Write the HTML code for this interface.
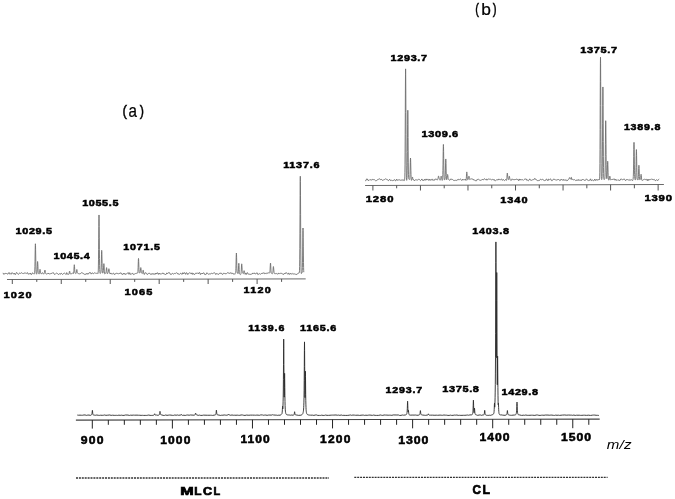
<!DOCTYPE html><html><head><meta charset="utf-8"><style>html,body{margin:0;padding:0;background:#fff;}svg{display:block;filter:grayscale(1);}text{font-family:"Liberation Sans",sans-serif;}</style></head><body>
<svg width="675" height="499" viewBox="0 0 675 499">
<rect width="675" height="499" fill="#fff"/>
<polyline fill="none" stroke="#6e6e6e" stroke-width="0.9" points="3.00,272.87 3.70,274.29 4.40,274.13 5.10,273.11 5.80,273.59 6.50,273.50 7.30,273.94 7.90,274.18 8.60,272.79 9.30,272.66 10.00,274.27 10.70,273.47 11.40,274.12 12.10,272.60 12.80,273.49 13.50,274.04 14.20,273.06 14.90,274.49 15.60,274.40 16.30,272.66 17.00,272.65 17.70,273.68 18.40,274.48 19.10,273.36 19.80,273.03 20.50,273.44 21.20,272.66 22.40,273.35 22.60,273.48 23.30,273.59 24.00,273.07 25.40,273.04 26.10,273.52 26.80,273.18 27.50,272.64 28.20,274.28 28.90,273.71 29.60,273.88 30.30,272.97 31.00,274.59 31.70,274.32 32.40,272.84 33.10,273.27 33.80,274.04 34.30,273.99 34.40,273.91 34.50,273.68 34.60,273.22 34.70,272.15 34.80,270.10 34.90,266.70 35.00,261.85 35.20,250.13 35.30,245.57 35.40,243.78 35.50,245.27 35.60,249.54 35.80,261.09 35.90,265.86 36.00,269.45 36.10,271.68 36.20,272.93 36.30,273.57 36.40,273.91 36.50,274.11 36.60,274.21 36.70,274.08 36.80,273.82 36.90,273.33 37.00,272.44 37.10,271.01 37.20,269.01 37.30,266.60 37.40,264.15 37.50,262.28 37.60,261.53 37.70,262.08 37.80,263.73 38.00,268.23 38.10,270.27 38.20,271.73 38.30,272.66 38.40,273.19 38.50,273.48 38.60,273.65 38.90,273.94 39.10,274.06 39.20,274.05 39.30,273.95 39.40,273.69 39.50,273.11 39.60,272.29 39.80,270.32 39.90,269.58 40.00,269.30 40.10,269.56 40.20,270.19 40.40,271.94 40.50,272.66 40.60,273.13 40.70,273.38 40.90,273.58 41.20,273.70 41.50,273.78 42.20,272.67 42.90,273.09 43.60,274.19 44.00,273.72 44.10,273.56 44.20,273.34 44.30,273.02 44.40,272.61 44.50,272.06 44.70,270.75 44.80,270.25 44.90,270.01 45.00,270.11 45.10,270.65 45.30,272.03 45.40,272.63 45.50,273.08 45.60,273.39 45.70,273.61 45.90,273.77 46.40,274.01 47.10,273.95 47.80,273.35 49.20,273.62 49.90,274.16 50.60,273.64 51.30,273.39 52.00,273.58 52.70,272.66 53.40,272.69 54.10,274.01 54.80,274.57 55.50,273.79 56.70,273.07 56.90,272.94 57.60,273.60 58.30,274.56 59.70,273.68 60.40,274.32 61.10,273.06 61.80,273.63 62.50,274.50 63.20,273.76 64.00,273.46 64.60,273.14 65.30,273.70 66.00,274.51 66.70,272.61 67.40,274.17 68.70,274.32 68.80,274.29 68.90,274.13 69.00,273.88 69.10,273.50 69.20,272.97 69.40,271.72 69.50,271.24 69.60,271.10 69.70,271.28 69.80,271.74 70.00,272.95 70.10,273.45 70.20,273.81 70.30,273.94 70.40,273.97 70.60,273.87 70.90,273.64 71.60,273.72 72.30,273.45 73.00,272.71 73.30,273.37 73.40,273.54 73.50,273.61 73.60,273.51 73.70,273.11 73.80,271.99 73.90,270.43 74.10,266.71 74.20,265.30 74.30,264.73 74.40,265.13 74.50,266.35 74.70,269.68 74.80,271.05 74.90,271.98 75.00,272.51 75.20,272.99 75.30,273.14 75.70,273.52 75.80,273.59 75.90,273.56 76.00,273.48 76.10,273.33 76.20,273.05 76.30,272.58 76.40,271.93 76.60,270.33 76.70,269.71 76.80,269.46 76.90,269.64 77.00,270.18 77.20,271.67 77.30,272.31 77.40,272.77 77.50,273.04 77.60,273.19 77.70,273.25 77.90,273.29 78.60,273.68 79.30,273.85 80.00,273.82 80.70,273.52 81.40,272.66 82.10,273.06 82.80,272.95 83.50,273.77 84.20,274.32 85.00,274.20 86.30,274.23 87.00,273.11 87.70,274.28 88.40,273.95 89.10,272.77 89.90,272.63 90.50,272.63 91.20,274.11 91.90,273.10 92.60,272.82 93.30,273.85 94.70,272.74 95.40,272.92 96.10,273.65 96.80,272.94 97.50,273.15 97.80,273.50 97.90,273.58 98.00,273.55 98.10,273.25 98.20,272.35 98.30,270.10 98.40,265.96 98.50,259.22 98.60,249.68 98.70,238.17 98.80,226.74 98.90,218.17 99.00,214.97 99.10,218.09 99.20,226.55 99.30,237.88 99.40,249.27 99.50,258.69 99.60,265.33 99.70,269.44 99.80,271.66 99.90,272.72 100.00,273.19 100.10,273.39 100.30,273.54 100.60,273.13 100.70,272.94 100.80,272.65 100.90,272.12 101.00,271.14 101.10,269.64 101.20,267.12 101.30,263.50 101.50,254.75 101.60,251.51 101.70,250.37 101.80,251.63 101.90,254.98 102.10,263.96 102.20,267.69 102.30,270.32 102.40,271.93 102.50,272.72 102.60,273.05 102.70,273.15 102.80,273.15 102.90,273.07 103.00,272.94 103.10,272.71 103.20,272.34 103.30,271.66 103.40,270.56 103.50,269.02 103.70,265.31 103.80,263.93 103.90,263.64 104.00,264.38 104.10,265.97 104.30,270.08 104.40,271.83 104.50,273.13 104.60,273.67 104.70,273.91 104.80,273.96 104.90,273.92 105.60,273.25 105.70,273.12 105.80,272.93 106.00,272.29 106.10,271.70 106.20,270.81 106.40,268.62 106.50,267.83 106.60,267.61 106.70,268.01 106.80,268.97 107.00,271.50 107.10,272.57 107.20,273.33 107.30,273.83 107.40,273.83 107.50,273.71 107.70,273.32 108.00,272.60 108.10,272.53 108.20,272.38 108.30,272.10 108.40,271.64 108.50,270.99 108.70,269.43 108.80,268.89 108.90,268.71 109.00,268.96 109.10,269.58 109.30,271.21 109.40,271.90 109.50,272.52 109.60,272.96 109.70,273.27 109.80,273.50 110.10,274.04 110.80,272.92 111.50,274.01 112.20,273.96 112.90,273.69 113.60,273.04 114.30,274.55 115.00,274.20 116.40,273.05 117.10,273.90 117.80,273.39 118.50,273.75 119.20,273.24 119.90,273.86 120.60,272.72 121.30,273.20 122.00,274.54 122.70,274.35 123.40,273.21 124.10,274.32 124.80,273.22 125.50,274.48 126.20,274.09 126.90,273.43 127.60,273.10 128.30,272.62 129.00,274.36 129.70,272.68 130.40,274.24 131.10,274.52 132.50,272.94 133.20,274.34 133.90,274.55 134.70,273.95 135.40,273.58 136.00,273.36 136.70,273.29 137.40,272.99 137.50,273.09 137.60,273.11 137.70,272.98 137.80,272.55 137.90,271.62 138.00,270.02 138.10,267.70 138.30,261.64 138.40,259.36 138.50,258.47 138.60,259.23 138.70,261.36 138.90,267.15 139.00,269.54 139.10,271.20 139.20,272.19 139.30,272.69 139.40,272.89 139.60,272.94 139.80,272.89 139.90,272.82 140.00,272.68 140.10,272.43 140.20,271.97 140.30,271.42 140.40,270.58 140.60,268.49 140.70,267.75 140.80,267.57 140.90,268.07 141.00,268.86 141.20,271.07 141.30,271.96 141.40,272.56 141.50,272.89 141.60,273.02 141.70,273.18 141.90,273.36 142.30,273.56 142.40,273.45 142.50,273.28 142.60,272.99 142.70,272.55 142.80,271.95 143.00,270.53 143.10,270.19 143.20,270.16 143.30,270.50 143.40,271.15 143.60,272.79 143.70,273.50 143.80,273.89 143.90,274.14 144.00,274.27 144.20,274.37 144.40,274.40 145.10,272.64 145.90,273.04 146.50,273.26 147.20,274.57 147.90,274.17 148.60,273.28 149.30,273.03 150.00,273.95 150.80,274.30 151.40,274.46 152.10,273.29 152.80,274.36 154.20,273.57 154.90,274.57 155.60,273.07 156.30,274.05 157.00,272.77 157.70,272.94 158.40,274.42 159.10,273.03 159.80,274.12 160.50,273.80 161.20,274.28 161.90,273.34 163.20,273.20 163.30,273.18 164.00,274.33 164.70,273.81 165.40,274.51 166.10,274.37 166.80,272.87 167.50,273.70 168.20,272.81 168.90,272.68 169.60,272.75 170.30,274.33 171.00,274.18 171.70,274.26 172.40,273.28 173.10,273.83 173.80,274.16 174.50,273.36 175.20,273.74 175.90,273.05 176.60,272.76 177.30,273.13 178.00,274.38 178.70,273.73 179.40,274.45 180.10,273.52 180.80,273.15 181.50,274.17 182.20,274.26 182.90,272.62 183.60,273.94 184.30,272.78 185.00,272.83 185.70,274.37 186.40,272.68 187.10,273.08 187.80,274.58 188.50,273.44 189.20,272.83 190.40,273.04 190.60,273.08 191.30,274.09 192.00,272.81 192.70,274.42 193.40,273.36 194.10,274.54 194.80,274.42 195.50,273.19 196.20,273.11 196.90,273.55 197.60,272.80 198.30,273.90 199.00,272.68 199.70,272.62 200.40,274.57 201.10,273.19 201.80,273.79 203.20,273.23 203.90,272.73 204.60,274.43 205.40,274.54 206.00,274.54 206.70,272.82 207.40,273.03 208.30,274.04 208.80,274.56 209.50,273.69 210.20,273.98 210.90,273.92 211.60,273.12 212.30,273.68 213.00,273.21 213.70,273.09 214.40,272.76 215.10,273.16 215.80,274.57 216.50,273.50 217.20,273.90 217.90,273.89 218.60,274.48 219.30,273.38 220.00,273.21 221.00,273.25 221.40,273.23 222.10,274.29 222.80,274.39 223.50,273.21 224.20,273.27 224.90,273.69 226.30,273.79 227.00,273.09 227.70,272.64 228.40,273.09 229.10,272.74 229.80,273.70 230.50,272.74 231.20,272.75 231.90,273.87 232.60,273.18 233.30,274.18 234.00,273.59 234.70,274.33 235.30,273.09 235.40,272.83 235.50,272.78 235.60,272.51 235.70,271.84 235.80,270.49 235.90,268.22 236.00,264.95 236.20,257.03 236.30,254.09 236.40,253.05 236.50,254.26 236.60,257.37 236.80,265.64 236.90,268.80 237.00,270.96 237.10,272.21 237.20,272.78 237.30,272.93 237.40,272.88 237.50,272.73 237.70,273.24 237.80,273.46 237.90,273.64 238.00,273.72 238.10,273.60 238.20,273.16 238.30,271.81 238.40,269.99 238.60,265.68 238.70,264.02 238.80,263.27 238.90,263.58 239.00,265.19 239.20,269.39 239.30,271.17 239.40,272.47 239.50,273.33 239.60,273.87 239.70,274.10 239.80,274.23 240.30,274.57 240.70,274.35 240.80,274.23 240.90,274.02 241.00,273.63 241.10,272.83 241.20,271.61 241.30,269.95 241.50,266.00 241.60,264.49 241.70,263.84 241.80,264.29 241.90,265.59 242.10,269.13 242.20,270.59 242.30,271.60 242.40,272.20 242.50,272.66 242.60,272.94 242.70,273.13 243.00,273.50 243.20,273.65 243.30,273.64 243.40,273.52 243.50,273.24 243.60,272.81 243.80,271.72 243.90,271.04 244.00,270.68 244.10,270.69 244.20,271.00 244.40,271.97 244.50,272.34 244.60,272.90 244.70,273.31 244.80,273.60 245.00,274.03 245.20,274.39 245.90,272.88 246.60,274.42 247.30,272.66 248.00,273.23 248.70,274.41 249.40,274.21 250.10,274.41 251.10,274.20 251.80,274.04 252.20,273.98 252.90,272.96 253.60,273.47 254.30,272.92 255.00,274.03 255.70,273.94 256.40,273.11 257.10,272.73 257.80,274.53 258.50,274.22 259.20,273.70 259.90,273.68 260.60,274.30 261.30,273.51 263.00,273.21 263.40,273.12 264.10,272.65 264.80,273.89 265.50,273.43 266.20,273.74 266.90,272.72 267.60,273.31 268.30,272.88 269.00,272.85 269.40,272.99 269.50,273.00 269.60,272.96 269.70,272.80 269.80,272.55 269.90,271.94 270.00,270.84 270.10,269.21 270.30,265.21 270.40,263.76 270.50,263.03 270.60,263.51 270.70,265.00 270.90,269.08 271.00,270.75 271.10,271.89 271.20,272.67 271.30,273.08 271.40,273.28 271.50,273.36 271.80,273.40 272.40,273.74 272.50,273.75 272.60,273.53 272.70,273.19 272.80,272.63 272.90,271.80 273.00,270.65 273.20,267.94 273.30,266.95 273.40,266.54 273.50,266.82 273.60,267.68 273.80,270.05 273.90,271.02 274.00,271.90 274.10,272.49 274.20,272.88 274.30,273.14 274.50,273.50 274.60,273.66 275.30,273.60 276.00,273.90 276.70,273.48 277.40,273.97 278.10,274.06 278.80,273.08 279.50,273.59 280.20,273.56 280.90,273.05 281.80,273.51 282.30,273.72 283.00,274.41 283.70,274.44 284.40,273.15 285.10,273.89 285.80,272.70 286.50,272.74 287.30,273.73 287.90,274.35 288.60,272.92 289.30,274.13 290.00,274.37 290.70,273.22 291.40,273.99 292.10,274.30 292.80,273.34 293.50,274.00 294.20,274.07 294.90,273.79 295.60,274.31 296.80,274.48 297.00,274.52 298.40,272.95 299.00,273.07 299.10,273.07 299.20,272.97 299.30,272.71 299.40,271.99 299.50,270.28 299.60,266.66 299.70,259.88 299.80,248.77 299.90,233.13 300.00,214.22 300.10,195.43 300.20,181.40 300.30,176.24 300.40,181.60 300.50,195.83 300.60,214.78 300.70,233.85 300.80,249.64 300.90,260.79 301.00,267.61 301.10,271.28 301.20,273.03 301.30,273.54 301.40,273.60 301.50,273.48 301.80,272.89 301.90,272.65 302.00,272.71 302.10,272.55 302.20,271.93 302.30,270.40 302.40,267.38 302.50,262.31 302.60,255.05 302.70,246.07 302.80,237.15 302.90,230.48 303.00,228.00 303.10,230.50 303.20,237.19 303.30,246.13 303.40,255.02 303.50,262.35 303.60,267.49 303.70,270.59 303.80,272.19"/>
<line x1="7.0" y1="279.50" x2="305.7" y2="278.90" stroke="#6a6a6a" stroke-width="1"/>
<line x1="12.30" y1="279.49" x2="12.30" y2="284.00" stroke="#555" stroke-width="1"/>
<line x1="36.78" y1="279.44" x2="36.78" y2="281.90" stroke="#555" stroke-width="1"/>
<line x1="61.26" y1="279.39" x2="61.26" y2="284.00" stroke="#555" stroke-width="1"/>
<line x1="85.74" y1="279.34" x2="85.74" y2="281.90" stroke="#555" stroke-width="1"/>
<line x1="110.22" y1="279.29" x2="110.22" y2="284.00" stroke="#555" stroke-width="1"/>
<line x1="134.70" y1="279.24" x2="134.70" y2="281.90" stroke="#555" stroke-width="1"/>
<line x1="159.18" y1="279.19" x2="159.18" y2="284.00" stroke="#555" stroke-width="1"/>
<line x1="183.66" y1="279.15" x2="183.66" y2="281.90" stroke="#555" stroke-width="1"/>
<line x1="208.14" y1="279.10" x2="208.14" y2="284.00" stroke="#555" stroke-width="1"/>
<line x1="232.62" y1="279.05" x2="232.62" y2="281.90" stroke="#555" stroke-width="1"/>
<line x1="257.10" y1="279.00" x2="257.10" y2="284.00" stroke="#555" stroke-width="1"/>
<line x1="281.58" y1="278.95" x2="281.58" y2="281.90" stroke="#555" stroke-width="1"/>
<polyline fill="none" stroke="#6e6e6e" stroke-width="0.9" points="365.20,180.71 365.90,180.70 366.60,178.91 367.30,178.97 368.00,180.47 369.00,180.22 369.40,180.14 370.10,179.42 370.80,180.01 371.90,179.98 372.20,179.96 372.90,179.12 373.60,179.66 374.30,179.59 375.10,180.32 375.70,180.79 376.40,180.70 377.10,179.89 377.90,179.64 378.60,179.27 379.20,178.87 379.90,178.85 380.60,179.73 381.30,179.44 382.00,179.56 382.70,180.58 383.40,179.85 384.10,179.92 384.80,179.27 385.50,178.85 386.20,179.45 386.90,179.07 387.60,179.82 388.30,180.80 389.00,180.15 389.70,179.16 390.40,180.59 391.30,180.36 391.80,180.27 392.50,180.61 393.20,180.33 393.90,180.38 394.60,179.51 395.30,180.76 396.00,180.72 396.70,179.12 397.40,180.31 398.10,180.23 398.80,179.72 399.50,179.86 400.20,179.78 400.90,180.65 401.60,179.80 402.30,180.46 403.00,179.51 403.70,180.57 404.30,180.59 404.40,180.56 404.50,180.34 404.60,179.92 404.70,178.99 404.80,176.93 404.90,172.68 405.00,164.83 405.10,152.04 405.20,134.12 405.30,112.46 405.40,90.93 405.50,74.84 405.60,68.87 405.70,74.90 405.80,91.05 405.90,112.71 406.00,134.50 406.10,152.56 406.20,165.32 406.30,173.14 406.40,177.37 406.50,179.41 406.60,180.16 406.70,180.39 406.80,180.20 406.90,179.64 407.00,178.37 407.10,175.73 407.20,170.83 407.30,162.82 407.40,151.50 407.50,137.83 407.60,124.25 407.70,114.07 407.80,110.24 407.90,113.93 408.00,123.97 408.10,137.41 408.20,150.93 408.30,162.12 408.40,169.98 408.50,174.74 408.60,177.26 408.70,178.50 408.80,179.03 408.90,179.25 409.00,179.34 409.30,179.44 409.50,179.58 409.60,179.53 409.70,179.27 409.80,178.58 409.90,177.20 410.00,174.86 410.10,171.25 410.30,162.61 410.40,159.35 410.50,158.04 410.60,159.04 410.70,162.00 410.90,170.76 411.00,174.43 411.10,177.08 411.20,178.79 411.30,179.79 411.40,180.38 411.50,180.35 411.60,180.22 411.70,179.98 411.80,179.69 411.90,179.30 412.00,178.77 412.10,178.10 412.30,177.30 412.40,177.05 412.50,177.07 412.60,177.42 412.70,178.04 412.80,178.80 412.90,179.22 413.00,179.53 413.10,179.70 413.20,179.74 413.30,179.68 413.50,179.41 414.20,180.71 415.00,180.15 415.60,179.81 416.30,179.84 417.00,180.10 417.70,179.98 418.40,179.42 419.10,179.22 419.80,179.82 420.50,180.67 421.20,180.05 421.90,178.95 422.60,180.44 423.30,180.25 424.00,180.62 424.70,179.18 425.40,180.29 426.10,178.92 426.80,180.11 427.50,179.35 428.20,179.25 428.90,180.55 429.60,179.01 430.30,179.84 431.00,180.51 431.70,179.29 432.40,179.22 433.10,180.56 433.80,179.65 434.50,180.23 435.20,178.86 435.90,179.52 436.60,179.14 437.30,180.15 437.60,179.62 437.70,179.42 437.80,179.17 437.90,178.84 438.00,178.36 438.10,178.09 438.20,177.61 438.40,176.36 438.50,175.95 438.60,175.96 438.70,176.45 438.80,176.84 439.00,178.06 439.10,178.53 439.20,178.77 439.30,178.82 439.40,178.72 439.50,179.00 439.80,179.65 440.10,180.26 440.30,179.82 440.40,179.57 440.50,179.25 440.60,178.84 440.70,178.30 440.80,177.61 441.00,176.57 441.10,176.21 441.20,176.11 441.30,176.34 441.40,176.84 441.50,177.49 441.60,178.24 441.70,178.88 441.80,179.38 441.90,179.75 442.00,180.02 442.20,180.42 442.30,180.20 442.40,179.92 442.50,179.48 442.60,178.69 442.70,177.21 442.80,174.61 442.90,170.46 443.00,164.86 443.10,158.08 443.20,151.35 443.30,146.32 443.40,144.45 443.50,146.34 443.60,151.38 443.70,158.27 443.80,165.19 443.90,170.95 444.00,175.05 444.10,177.61 444.20,179.05 444.30,179.80 444.40,179.96 444.50,179.97 444.60,179.91 444.70,179.81 444.80,179.67 444.90,179.43 445.00,178.99 445.10,178.15 445.20,176.64 445.30,174.24 445.40,170.88 445.60,162.81 445.70,159.78 445.80,158.96 445.90,160.32 446.00,163.52 446.20,171.93 446.30,175.47 446.40,178.05 446.50,179.21 446.60,179.72 446.70,179.84 446.80,179.69 446.90,179.29 447.00,178.73 447.20,177.22 447.40,175.40 447.50,174.71 447.60,174.44 447.70,174.65 447.80,175.27 448.00,177.20 448.10,178.01 448.20,178.62 448.30,179.02 448.40,179.27 448.50,179.44 448.80,179.72 449.20,180.03 449.90,180.28 450.60,179.03 451.30,179.47 452.00,178.86 452.70,179.70 453.40,180.33 454.10,180.28 454.80,180.60 455.50,180.31 456.20,180.52 457.00,180.14 458.30,179.25 459.00,180.12 459.70,179.43 460.40,179.00 461.10,179.70 461.80,180.55 462.50,179.06 463.20,179.97 463.90,179.59 464.60,179.83 465.30,179.09 465.80,180.22 465.90,180.40 466.00,180.51 466.10,180.03 466.20,179.30 466.30,178.25 466.40,176.84 466.60,173.51 466.70,172.22 466.80,171.92 466.90,172.42 467.00,173.61 467.20,176.73 467.30,178.04 467.40,179.00 467.50,179.47 467.60,179.69 467.70,179.77 467.90,179.74 468.10,179.61 468.20,179.44 468.30,179.21 468.40,178.89 468.50,178.43 468.60,177.83 468.80,176.43 468.90,176.15 469.00,176.14 469.10,176.46 469.20,177.05 469.40,178.53 469.50,179.17 469.60,179.39 469.70,179.48 469.80,179.47 470.00,179.31 470.20,179.08 471.00,178.91 471.60,178.87 472.30,179.12 473.00,178.99 473.70,180.07 474.40,179.82 475.10,180.77 475.80,180.67 476.50,180.79 477.20,179.26 477.90,179.69 478.60,179.30 479.30,179.98 480.00,180.05 480.70,180.40 481.40,180.22 482.10,179.31 482.90,179.68 483.50,179.85 484.20,178.81 484.90,178.87 485.60,179.62 486.30,179.02 487.00,180.25 487.70,179.28 488.40,179.00 489.40,179.21 489.90,179.26 490.50,179.23 491.20,179.84 491.90,179.73 492.60,179.42 493.30,180.08 494.00,179.22 494.70,180.61 495.40,180.73 496.20,180.17 496.80,179.67 498.20,179.96 498.90,178.90 499.60,179.64 500.30,179.85 501.00,179.16 501.70,178.99 502.40,180.41 503.10,179.53 503.80,179.84 504.50,180.64 505.90,179.38 506.30,180.15 506.40,180.30 506.50,180.38 506.60,180.34 506.70,179.71 506.80,178.80 506.90,177.57 507.10,174.69 507.20,173.57 507.30,173.04 507.40,173.29 507.50,174.14 507.70,176.47 507.80,177.42 507.90,178.06 508.00,178.41 508.10,178.84 508.20,179.15 508.30,179.38 508.40,179.57 508.50,179.70 508.60,179.78 508.70,179.76 508.80,179.26 508.90,178.60 509.10,177.10 509.20,176.50 509.30,176.17 509.40,176.16 509.50,176.66 509.70,177.94 509.80,178.49 509.90,178.89 510.00,179.16 510.40,179.87 510.80,180.48 511.50,180.15 512.20,178.83 512.90,179.70 513.60,179.62 514.30,179.77 515.00,179.22 515.70,179.98 516.40,178.95 517.10,179.37 517.80,179.55 518.50,180.67 519.20,178.95 519.90,180.31 520.60,179.18 521.30,179.94 522.00,179.58 522.70,179.73 523.40,180.31 524.10,179.59 524.80,179.04 525.70,179.02 526.20,178.96 526.90,180.50 527.60,180.08 528.30,180.72 529.00,180.19 529.70,178.85 530.40,180.12 531.10,180.35 531.80,180.25 532.50,179.80 533.20,179.52 533.80,179.66 534.00,179.68 534.10,179.64 534.20,179.51 534.30,179.28 534.50,178.70 534.60,178.51 534.70,178.25 534.80,178.20 534.90,178.34 535.10,178.82 535.20,178.99 535.30,179.07 535.40,179.28 535.60,179.54 536.00,179.85 536.70,179.76 537.40,180.71 538.10,180.41 538.80,180.66 539.50,180.47 540.20,179.39 540.90,179.26 541.60,179.78 542.30,179.32 543.00,179.66 544.40,180.64 545.10,179.97 545.80,180.44 546.50,178.99 547.20,179.51 547.90,180.80 548.60,179.09 549.30,179.63 550.00,178.93 550.70,178.97 551.40,180.59 552.10,180.78 552.80,180.10 553.50,179.06 554.20,179.39 554.90,179.26 555.60,180.14 556.30,180.16 557.00,179.68 557.70,179.85 558.40,179.02 559.80,180.70 560.50,180.31 561.20,178.99 561.90,179.83 562.60,180.23 563.30,179.31 564.00,180.59 564.70,179.72 565.40,180.21 566.10,179.61 566.80,180.79 568.20,179.95 568.60,179.43 568.80,179.08 568.90,178.82 569.00,178.68 569.10,178.44 569.30,177.83 569.40,177.62 569.50,177.60 569.70,177.96 569.90,178.51 570.00,178.71 570.10,178.82 570.20,178.84 570.30,178.80 570.40,178.99 570.50,179.10 570.60,179.15 570.70,179.10 570.80,178.92 570.90,178.60 571.00,178.17 571.10,177.67 571.20,177.32 571.30,177.24 571.40,177.48 571.50,178.00 571.70,179.33 571.80,179.62 571.90,179.76 572.00,179.77 572.10,179.68 572.30,179.35 572.40,179.16 573.10,179.82 573.90,179.74 574.50,179.61 575.30,180.29 575.90,180.67 577.30,179.74 578.00,180.72 578.70,179.46 579.40,180.29 580.10,180.12 581.50,180.50 582.20,179.25 582.90,180.04 583.60,179.61 584.40,180.22 585.00,180.75 585.70,180.07 586.40,178.82 587.10,179.73 587.90,180.27 588.50,180.57 589.20,180.10 589.90,180.43 590.60,178.83 591.30,180.69 592.00,180.26 592.70,180.01 593.40,180.61 594.10,180.57 594.80,179.00 595.50,180.43 596.20,180.33 596.90,179.20 597.60,180.29 598.30,179.97 599.00,179.18 599.30,179.67 599.40,179.74 599.50,179.59 599.60,178.88 599.70,176.92 599.80,172.20 599.90,163.52 600.00,149.42 600.10,129.49 600.20,105.46 600.30,81.58 600.40,63.67 600.50,57.21 600.60,63.94 600.70,81.79 600.80,105.62 600.90,129.60 601.00,149.47 601.10,163.51 601.20,171.95 601.30,176.44 601.40,178.52 601.50,179.35 601.60,179.62 601.70,179.68 601.80,179.56 601.90,179.26 602.00,178.54 602.10,176.87 602.20,173.37 602.30,166.87 602.40,156.24 602.50,141.20 602.60,123.17 602.70,105.26 602.80,91.88 602.90,86.96 603.00,92.06 603.10,105.61 603.30,141.79 603.40,156.76 603.50,167.30 603.60,173.73 603.70,177.14 603.80,178.73 603.90,179.38 604.00,179.55 604.10,179.55 604.40,179.35 604.60,179.14 604.70,179.20 604.80,178.99 604.90,178.18 605.00,176.20 605.10,172.31 605.20,165.80 605.30,156.48 605.40,144.69 605.50,132.98 605.60,124.16 605.70,120.71 605.80,123.64 605.90,131.96 606.00,143.16 606.10,154.67 606.20,164.19 606.30,170.90 606.40,174.99 606.50,177.16 606.60,178.17 606.70,178.58 606.80,178.74 606.90,178.54 607.00,177.98 607.10,176.81 607.20,174.81 607.30,171.90 607.50,164.82 607.60,162.19 607.70,161.27 607.80,162.39 607.90,165.22 608.10,172.75 608.20,175.74 608.30,177.83 608.40,179.09 608.50,179.73 608.60,180.01 608.70,180.10 608.90,180.10 609.00,180.06 609.10,179.94 609.20,179.69 609.30,179.26 609.40,178.64 609.50,177.88 609.60,177.03 609.70,176.37 609.80,176.08 609.90,176.22 610.00,176.72 610.30,178.83 610.40,179.34 610.50,179.67 610.60,179.87 610.70,180.00 610.90,180.14 611.60,179.47 612.30,179.33 613.00,179.81 613.70,178.86 614.40,178.96 615.10,180.31 615.80,179.15 616.50,180.30 617.20,180.37 617.90,179.61 618.60,180.15 619.50,180.42 620.00,180.53 620.70,179.07 621.40,179.13 622.10,179.56 622.80,179.73 623.50,179.39 624.20,178.82 624.90,179.91 625.60,180.73 626.30,179.53 627.00,179.88 627.70,179.56 628.40,179.69 629.10,180.54 629.80,179.42 630.50,180.10 631.20,179.77 631.90,179.88 632.60,180.63 632.90,179.87 633.00,179.52 633.10,179.01 633.20,178.10 633.30,176.45 633.40,174.01 633.50,169.88 633.60,163.93 633.70,156.70 633.80,149.51 633.90,144.19 634.00,142.35 634.10,144.26 634.20,149.64 634.30,156.89 634.40,164.19 634.50,170.21 634.60,174.40 634.70,176.90 634.80,178.42 634.90,179.18 635.00,179.55 635.10,179.75 635.20,179.88 635.30,179.96 635.40,179.97 635.50,179.79 635.60,179.30 635.70,178.20 635.80,176.11 635.90,172.65 636.00,167.73 636.10,161.77 636.20,155.77 636.30,151.27 636.40,149.57 636.50,151.19 636.60,155.61 636.80,167.49 636.90,172.38 637.00,175.80 637.10,177.87 637.20,178.93 637.30,179.39 637.40,179.54 637.50,179.55 637.80,179.95 637.90,180.04 638.00,180.07 638.10,179.96 638.20,179.58 638.30,178.41 638.40,176.64 638.50,174.21 638.70,168.44 638.80,166.24 638.90,165.29 639.00,166.18 639.10,168.32 639.30,173.97 639.40,176.34 639.50,178.06 639.60,179.17 639.70,179.61 639.80,179.78 639.90,179.81 640.00,179.77 640.20,179.59 640.40,179.25 640.50,178.89 640.60,178.28 640.70,177.40 640.90,175.26 641.00,174.47 641.10,174.25 641.20,174.65 641.30,175.57 641.50,177.98 641.60,178.99 641.70,179.73 641.80,180.11 641.90,180.31 642.00,180.39 642.20,180.42 642.40,180.40 643.10,180.06 643.80,179.42 644.50,179.27 645.20,179.72 645.90,179.26 646.60,179.35 647.30,180.72 648.00,179.02 648.70,180.44 649.40,179.56 650.40,179.49 650.80,179.44 651.50,178.95 652.20,179.71 652.90,179.13 653.60,179.68 654.30,179.38 655.00,180.59 655.70,180.64 656.40,179.68 657.10,180.08 657.80,180.66 658.50,179.45 659.20,179.00"/>
<line x1="365.1" y1="185.50" x2="663.9" y2="184.50" stroke="#6a6a6a" stroke-width="1"/>
<line x1="372.90" y1="185.47" x2="372.90" y2="190.50" stroke="#555" stroke-width="1"/>
<line x1="396.67" y1="185.39" x2="396.67" y2="188.30" stroke="#555" stroke-width="1"/>
<line x1="420.44" y1="185.31" x2="420.44" y2="190.50" stroke="#555" stroke-width="1"/>
<line x1="444.21" y1="185.24" x2="444.21" y2="188.30" stroke="#555" stroke-width="1"/>
<line x1="467.98" y1="185.16" x2="467.98" y2="190.50" stroke="#555" stroke-width="1"/>
<line x1="491.75" y1="185.08" x2="491.75" y2="188.30" stroke="#555" stroke-width="1"/>
<line x1="515.52" y1="185.00" x2="515.52" y2="190.50" stroke="#555" stroke-width="1"/>
<line x1="539.29" y1="184.92" x2="539.29" y2="188.30" stroke="#555" stroke-width="1"/>
<line x1="563.06" y1="184.84" x2="563.06" y2="190.50" stroke="#555" stroke-width="1"/>
<line x1="586.83" y1="184.76" x2="586.83" y2="188.30" stroke="#555" stroke-width="1"/>
<line x1="610.60" y1="184.68" x2="610.60" y2="190.50" stroke="#555" stroke-width="1"/>
<line x1="634.37" y1="184.60" x2="634.37" y2="188.30" stroke="#555" stroke-width="1"/>
<line x1="658.14" y1="184.52" x2="658.14" y2="190.50" stroke="#555" stroke-width="1"/>
<polyline fill="none" stroke="#2a2a2a" stroke-width="0.9" points="77.30,415.07 78.70,415.22 80.00,415.14 81.50,415.25 82.50,415.26 83.90,414.98 85.10,414.96 86.40,415.37 87.80,415.08 89.00,415.05 90.30,415.39 91.00,415.15 91.30,414.98 91.50,414.80 91.70,414.53 91.80,414.33 91.90,414.04 92.00,413.59 92.10,412.91 92.20,411.95 92.30,410.87 92.40,410.30 92.50,410.90 92.60,412.00 92.70,412.99 92.80,413.70 92.90,414.18 93.00,414.47 93.10,414.67 93.20,414.81 93.40,414.97 93.70,415.07 94.60,415.16 95.50,415.25 96.80,415.02 98.30,415.29 99.40,415.38 100.70,415.21 102.20,415.32 103.40,415.26 104.60,414.98 105.90,415.33 107.80,415.18 109.80,414.97 111.10,415.38 112.40,415.19 114.80,415.38 115.80,415.34 116.40,415.32 117.60,415.41 118.90,415.15 120.20,415.35 121.50,415.17 122.90,415.42 124.10,415.39 125.40,415.00 128.00,415.06 129.30,415.43 130.60,415.17 132.00,415.25 133.30,415.11 134.60,415.20 137.00,415.13 138.60,415.24 139.80,415.25 141.10,415.39 142.40,415.30 143.70,415.41 145.20,415.39 146.30,415.43 147.80,415.23 148.80,415.03 150.10,415.38 151.70,415.42 152.80,415.37 153.70,415.17 154.10,414.98 154.20,414.89 154.30,414.75 154.40,414.55 154.60,413.94 154.70,413.77 154.80,413.96 155.00,414.59 155.10,414.80 155.20,414.94 155.30,415.04 155.60,415.13 156.30,415.08 156.60,415.03 157.90,415.32 158.70,415.14 159.00,415.01 159.20,414.84 159.30,414.72 159.40,414.55 159.50,414.30 159.60,413.93 159.70,413.40 159.80,412.64 159.90,411.81 160.00,411.35 160.10,411.79 160.20,412.60 160.30,413.33 160.40,413.85 160.50,414.19 160.60,414.42 160.70,414.57 160.90,414.75 161.20,414.86 161.80,414.92 163.10,415.36 164.40,415.44 165.70,414.99 167.00,415.35 168.80,415.11 169.70,415.03 171.00,415.12 172.30,415.34 173.50,415.39 174.80,414.97 176.10,415.26 177.40,414.97 178.70,415.30 180.00,415.08 180.60,415.11 180.80,415.05 180.90,414.97 181.00,414.86 181.20,414.49 181.30,414.39 181.40,414.51 181.60,414.93 181.70,415.07 181.90,415.24 182.30,415.36 182.70,415.39 183.90,415.20 185.20,415.45 186.60,415.10 187.80,414.99 189.10,415.25 190.40,414.97 194.00,415.19 194.30,415.18 194.70,415.02 194.90,414.88 195.10,414.64 195.20,414.44 195.30,414.14 195.40,413.73 195.50,413.28 195.60,413.03 195.70,413.26 195.80,413.69 195.90,414.07 196.00,414.35 196.10,414.53 196.30,414.73 196.60,414.85 196.90,414.90 198.20,415.37 199.50,415.10 200.80,415.43 202.20,415.38 203.40,415.14 207.70,415.26 210.50,415.24 211.40,415.28 212.50,415.41 214.00,415.16 214.90,415.03 215.40,414.86 215.60,414.68 215.70,414.54 215.80,414.33 215.90,414.02 216.00,413.54 216.10,412.83 216.20,411.83 216.30,410.71 216.40,410.11 216.50,410.71 216.60,411.82 216.70,412.81 216.80,413.51 216.90,413.98 217.00,414.28 217.10,414.49 217.20,414.62 217.40,414.78 218.10,414.97 219.10,415.10 220.30,415.43 221.70,415.21 222.90,415.22 224.20,414.96 225.70,415.17 226.80,415.23 227.90,414.92 228.30,414.77 228.40,414.70 228.50,414.58 228.70,414.22 228.80,414.12 228.90,414.26 229.10,414.72 229.20,414.88 229.40,415.08 229.80,415.19 230.70,415.25 232.00,414.98 233.30,415.26 234.70,415.19 236.00,415.28 237.20,415.13 238.60,415.30 239.80,415.32 241.10,414.96 242.40,414.98 243.80,415.30 245.00,415.43 246.30,415.08 248.90,415.25 250.30,415.11 252.50,415.11 254.40,415.16 255.50,415.24 256.80,415.10 258.10,415.15 259.30,415.33 260.60,414.94 261.30,415.02 261.60,414.94 261.80,414.75 261.90,414.62 262.00,414.54 262.10,414.63 262.30,414.93 262.50,415.11 262.90,415.24 263.30,415.28 264.60,415.10 265.80,415.06 267.10,415.35 268.50,415.07 269.90,415.06 271.40,415.15 271.80,415.08 272.00,414.94 272.20,414.67 272.30,414.60 272.40,414.66 272.60,414.90 272.80,415.02 273.20,415.04 273.60,414.97 275.10,415.11 276.30,415.14 277.50,415.37 278.80,415.16 280.00,415.23 280.10,415.23 280.80,414.85 281.20,414.55 281.70,414.05 281.90,413.75 282.00,413.52 282.10,412.98 282.20,412.17 282.30,410.96 282.40,409.25 282.50,407.34 282.60,406.31 282.70,407.36 282.80,408.89 282.90,407.26 283.00,405.00 283.10,401.77 283.20,397.05 283.30,389.99 283.40,379.44 283.50,364.64 283.60,348.11 283.70,339.14 283.80,348.13 283.90,364.69 284.00,379.51 284.10,390.08 284.20,397.16 284.30,395.56 284.40,387.40 284.50,378.28 284.60,373.33 284.70,378.29 284.80,387.43 284.90,395.62 285.00,401.45 285.10,405.37 285.20,407.99 285.30,409.79 285.40,411.03 285.50,411.92 285.60,412.57 285.70,413.06 285.80,413.43 285.90,413.72 286.00,413.95 286.20,414.27 286.40,414.48 286.80,414.73 287.30,414.88 288.60,414.99 289.30,415.02 290.50,415.21 291.80,415.03 293.10,415.26 293.50,415.16 293.80,414.99 293.90,414.88 294.00,414.73 294.10,414.51 294.20,414.17 294.30,413.68 294.40,412.98 294.50,412.17 294.60,411.72 294.70,412.12 294.80,412.88 294.90,413.55 295.00,414.03 295.10,414.34 295.20,414.53 295.30,414.66 295.50,414.80 296.20,414.98 297.10,415.08 298.30,415.35 300.00,415.26 300.90,415.21 301.60,414.90 302.10,414.55 302.40,414.26 302.60,413.99 302.80,413.61 302.90,413.37 303.00,413.09 303.10,412.73 303.20,412.30 303.30,411.76 303.40,411.07 303.50,410.18 303.60,409.02 303.70,407.45 303.80,405.27 303.90,402.16 304.00,397.61 304.10,390.81 304.20,380.65 304.30,366.41 304.40,350.51 304.50,341.88 304.60,350.52 304.70,366.44 304.80,380.69 304.90,390.87 305.00,397.70 305.10,394.47 305.20,385.93 305.30,376.38 305.40,371.21 305.50,376.42 305.60,386.01 305.70,394.59 305.80,400.72 305.90,404.83 306.00,407.58 306.10,409.48 306.20,410.77 306.30,411.70 306.40,412.38 306.50,412.89 306.60,413.28 306.70,413.58 306.80,413.82 307.00,414.15 307.20,414.36 307.70,414.70 308.30,414.92 309.30,415.08 310.60,415.16 312.70,415.17 313.90,415.41 315.20,415.03 316.50,414.95 317.80,415.42 319.40,415.40 320.40,415.44 321.70,415.17 323.10,415.42 324.30,415.41 325.60,415.06 327.00,415.33 328.40,415.35 331.80,415.12 332.50,415.10 333.80,415.10 336.00,414.98 337.30,415.24 338.60,415.09 339.90,415.36 341.20,414.97 342.50,415.40 343.90,415.31 345.30,415.41 347.80,415.39 349.20,415.20 350.30,414.96 351.60,415.32 352.90,415.04 354.40,415.13 355.60,415.28 358.10,415.16 359.40,415.42 362.10,415.12 363.30,415.08 364.60,415.38 365.90,415.19 367.20,415.34 368.70,415.11 369.90,415.06 372.40,415.36 373.70,415.04 375.10,415.35 376.50,415.40 378.20,415.36 378.90,415.36 380.20,414.95 381.60,415.27 382.80,415.38 384.10,414.97 385.60,415.09 386.90,415.10 388.10,415.21 389.70,415.17 390.80,415.21 391.90,415.34 393.20,414.95 396.90,415.01 398.40,414.98 399.70,415.44 401.00,415.38 402.30,414.99 403.60,415.19 405.50,414.95 406.00,414.79 406.30,414.59 406.50,414.36 406.60,414.19 406.70,413.97 406.80,413.68 406.90,413.26 407.00,412.67 407.10,411.81 407.20,410.52 407.30,408.59 407.40,405.89 407.50,402.87 407.60,401.24 407.70,402.89 407.80,405.92 407.90,408.64 408.00,410.58 408.10,411.88 408.20,411.88 408.30,410.81 408.40,410.23 408.50,410.83 408.60,411.93 408.70,412.91 408.80,413.62 408.90,414.08 409.00,414.39 409.10,414.60 409.20,414.75 409.40,414.93 409.70,415.07 410.20,415.15 412.90,415.05 414.10,415.11 415.30,415.01 416.80,415.23 418.00,415.26 418.90,415.06 419.30,414.89 419.50,414.74 419.70,414.50 419.80,414.30 419.90,414.01 420.00,413.59 420.10,412.97 420.20,412.10 420.30,411.13 420.40,410.60 420.50,411.11 420.60,412.07 420.70,412.93 420.80,413.54 420.90,413.96 421.00,414.23 421.10,414.43 421.30,414.66 421.60,414.83 422.30,415.01 424.80,415.28 425.70,415.33 427.00,415.09 427.50,415.10 427.80,415.01 427.90,414.93 428.00,414.81 428.10,414.61 428.30,414.03 428.40,413.84 428.50,414.01 428.70,414.62 428.80,414.82 428.90,414.95 429.10,415.10 429.50,415.19 430.70,415.17 432.50,415.15 434.90,415.29 436.20,415.17 437.50,415.29 440.10,415.08 441.80,415.25 442.60,415.30 443.90,414.99 445.30,415.16 446.60,415.18 447.90,415.39 449.10,415.42 450.40,415.14 451.70,415.40 453.10,415.33 454.30,415.08 455.70,415.17 456.90,415.01 458.20,415.36 459.60,415.29 460.90,415.39 463.70,415.29 464.90,415.30 466.20,415.20 467.30,415.00 468.60,415.24 469.90,414.92 471.10,414.88 471.70,414.85 472.00,414.74 472.20,414.60 472.30,414.48 472.40,414.33 472.50,414.12 472.60,413.77 472.70,413.29 472.80,412.63 472.90,411.68 473.00,410.26 473.10,408.17 473.20,405.24 473.30,401.97 473.40,400.18 473.50,401.91 473.60,405.13 473.70,408.00 473.80,410.04 473.90,411.42 474.00,412.35 474.10,412.73 474.20,411.78 474.30,410.46 474.40,408.99 474.50,408.18 474.60,408.99 474.70,410.47 474.80,411.79 474.90,412.74 475.00,413.37 475.10,413.80 475.20,414.09 475.30,414.29 475.50,414.55 475.80,414.74 476.30,414.88 476.80,415.06 477.70,415.37 479.10,415.03 480.30,414.96 481.60,415.35 482.90,414.92 483.40,414.96 483.70,414.90 483.90,414.77 484.00,414.65 484.10,414.46 484.20,414.18 484.30,413.71 484.40,413.01 484.50,412.03 484.60,410.94 484.70,410.34 484.80,410.92 484.90,412.00 485.00,412.97 485.10,413.66 485.20,414.12 485.30,414.42 485.40,414.63 485.60,414.88 485.90,415.09 486.40,415.24 487.50,415.37 488.20,415.40 489.40,415.24 490.70,415.33 491.30,415.11 492.00,414.74 492.60,414.65 493.00,414.48 493.30,414.24 493.50,413.93 493.70,413.52 493.90,412.99 494.00,412.41 494.10,411.28 494.20,409.61 494.30,407.26 494.40,404.64 494.50,403.22 494.60,404.62 494.70,407.24 494.80,405.86 494.90,403.78 495.00,401.02 495.10,397.29 495.20,392.11 495.30,384.74 495.40,373.96 495.50,357.85 495.60,333.79 495.70,300.05 495.80,262.36 495.90,241.91 496.00,262.35 496.10,300.02 496.20,333.74 496.30,357.78 496.40,356.90 496.50,332.19 496.60,300.30 496.70,272.56 496.80,272.54 496.90,300.23 497.00,332.07 497.10,356.73 497.20,373.56 497.30,384.82 497.40,375.84 497.50,363.04 497.60,356.10 497.70,363.09 497.80,375.94 497.90,387.45 498.00,395.66 498.10,401.17 498.20,404.87 498.30,404.69 498.40,403.30 498.50,404.74 498.60,407.36 498.70,409.70 498.80,411.37 498.90,412.49 499.00,413.25 499.10,413.77 499.20,414.01 499.40,414.37 499.70,414.73 499.80,414.81 500.20,414.91 500.80,414.90 501.10,414.85 502.40,415.10 505.00,415.33 505.90,415.04 506.40,414.77 506.60,414.60 506.70,414.46 506.80,414.27 506.90,413.98 507.00,413.56 507.10,412.94 507.20,412.06 507.30,411.08 507.40,410.54 507.50,411.07 507.60,412.05 507.70,412.93 507.80,413.55 507.90,413.98 508.00,414.26 508.10,414.45 508.30,414.69 508.60,414.87 509.60,415.13 510.40,415.25 511.60,415.31 513.00,415.13 514.70,415.02 515.30,414.89 515.60,414.73 515.80,414.56 516.00,414.28 516.10,414.07 516.20,413.79 516.30,413.40 516.40,412.84 516.50,412.03 516.60,410.82 516.70,409.02 516.80,406.49 516.90,403.66 517.00,402.13 517.10,403.67 517.20,406.50 517.30,409.03 517.40,410.84 517.50,412.05 517.60,412.86 517.70,413.42 517.80,413.81 517.90,414.09 518.00,414.30 518.20,414.55 518.50,414.74 519.00,414.86 519.40,414.90 521.60,415.38 521.90,415.44 523.20,415.16 524.50,415.32 525.80,415.03 527.20,415.30 528.80,415.32 531.70,415.20 532.70,415.22 534.90,415.40 536.20,415.02 537.50,415.00 538.90,415.33 540.10,415.41 541.50,415.21 542.80,415.18 544.00,415.31 545.30,415.04 547.00,415.07 548.00,415.06 549.20,415.24 550.80,415.10 551.90,415.08 553.40,415.33 554.40,415.43 555.70,415.10 557.00,415.30 558.30,415.16 559.60,415.38 562.40,415.08 564.00,415.02 564.80,414.96 566.20,415.19 568.10,415.08 568.80,415.04 570.20,415.13 571.40,415.13 572.60,415.34 573.90,415.02 575.20,415.45 576.50,415.19 578.00,415.24 579.20,415.20 580.50,415.37 581.90,415.34 583.30,415.22 584.40,415.20 586.40,415.35 587.00,415.36 588.20,415.15 590.20,415.38 590.80,415.43 592.30,415.17 593.60,415.07 594.80,415.09 596.10,415.31 597.40,415.30 598.70,415.43 599.00,415.41"/>
<line x1="75.9" y1="420.10" x2="599.7" y2="419.10" stroke="#444" stroke-width="1.1"/>
<line x1="92.30" y1="420.07" x2="92.30" y2="428.60" stroke="#222" stroke-width="1"/>
<line x1="108.32" y1="420.04" x2="108.32" y2="424.80" stroke="#222" stroke-width="1"/>
<line x1="124.33" y1="420.01" x2="124.33" y2="424.80" stroke="#222" stroke-width="1"/>
<line x1="140.35" y1="419.98" x2="140.35" y2="424.80" stroke="#222" stroke-width="1"/>
<line x1="156.36" y1="419.95" x2="156.36" y2="424.80" stroke="#222" stroke-width="1"/>
<line x1="172.38" y1="419.92" x2="172.38" y2="428.53" stroke="#222" stroke-width="1"/>
<line x1="188.40" y1="419.89" x2="188.40" y2="424.80" stroke="#222" stroke-width="1"/>
<line x1="204.41" y1="419.85" x2="204.41" y2="424.80" stroke="#222" stroke-width="1"/>
<line x1="220.43" y1="419.82" x2="220.43" y2="424.80" stroke="#222" stroke-width="1"/>
<line x1="236.44" y1="419.79" x2="236.44" y2="424.80" stroke="#222" stroke-width="1"/>
<line x1="252.46" y1="419.76" x2="252.46" y2="428.47" stroke="#222" stroke-width="1"/>
<line x1="268.48" y1="419.73" x2="268.48" y2="424.80" stroke="#222" stroke-width="1"/>
<line x1="284.49" y1="419.70" x2="284.49" y2="424.80" stroke="#222" stroke-width="1"/>
<line x1="300.51" y1="419.67" x2="300.51" y2="424.80" stroke="#222" stroke-width="1"/>
<line x1="316.52" y1="419.64" x2="316.52" y2="424.80" stroke="#222" stroke-width="1"/>
<line x1="332.54" y1="419.61" x2="332.54" y2="428.40" stroke="#222" stroke-width="1"/>
<line x1="348.56" y1="419.58" x2="348.56" y2="424.80" stroke="#222" stroke-width="1"/>
<line x1="364.57" y1="419.55" x2="364.57" y2="424.80" stroke="#222" stroke-width="1"/>
<line x1="380.59" y1="419.52" x2="380.59" y2="424.80" stroke="#222" stroke-width="1"/>
<line x1="396.60" y1="419.49" x2="396.60" y2="424.80" stroke="#222" stroke-width="1"/>
<line x1="412.62" y1="419.46" x2="412.62" y2="428.33" stroke="#222" stroke-width="1"/>
<line x1="428.64" y1="419.43" x2="428.64" y2="424.80" stroke="#222" stroke-width="1"/>
<line x1="444.65" y1="419.40" x2="444.65" y2="424.80" stroke="#222" stroke-width="1"/>
<line x1="460.67" y1="419.37" x2="460.67" y2="424.80" stroke="#222" stroke-width="1"/>
<line x1="476.68" y1="419.33" x2="476.68" y2="424.80" stroke="#222" stroke-width="1"/>
<line x1="492.70" y1="419.30" x2="492.70" y2="428.27" stroke="#222" stroke-width="1"/>
<line x1="508.72" y1="419.27" x2="508.72" y2="424.80" stroke="#222" stroke-width="1"/>
<line x1="524.73" y1="419.24" x2="524.73" y2="424.80" stroke="#222" stroke-width="1"/>
<line x1="540.75" y1="419.21" x2="540.75" y2="424.80" stroke="#222" stroke-width="1"/>
<line x1="556.76" y1="419.18" x2="556.76" y2="424.80" stroke="#222" stroke-width="1"/>
<line x1="572.78" y1="419.15" x2="572.78" y2="428.20" stroke="#222" stroke-width="1"/>
<line x1="588.80" y1="419.12" x2="588.80" y2="424.80" stroke="#222" stroke-width="1"/>
<text transform="translate(122.49,115.81) scale(0.875,1)" font-size="15.30" font-weight="normal" font-style="normal" letter-spacing="0.00" fill="#000" stroke="#000" stroke-width="0.45">(</text>
<text transform="translate(128.45,116.73) scale(0.858,1)" font-size="17.71" font-weight="normal" font-style="normal" letter-spacing="0.00" fill="#000" stroke="#000" stroke-width="0.20">a</text>
<text transform="translate(139.75,115.81) scale(0.826,1)" font-size="15.30" font-weight="normal" font-style="normal" letter-spacing="0.00" fill="#000" stroke="#000" stroke-width="0.45">)</text>
<text transform="translate(475.24,13.90) scale(0.748,1)" font-size="14.87" font-weight="normal" font-style="normal" letter-spacing="0.00" fill="#000" stroke="#000" stroke-width="0.45">(</text>
<text transform="translate(481.18,14.55) scale(1.108,1)" font-size="15.66" font-weight="normal" font-style="normal" letter-spacing="0.00" fill="#000" stroke="#000" stroke-width="0.20">b</text>
<text transform="translate(492.86,13.90) scale(0.774,1)" font-size="14.87" font-weight="normal" font-style="normal" letter-spacing="0.00" fill="#000" stroke="#000" stroke-width="0.45">)</text>
<text transform="translate(15.57,234.36) scale(1.180,1)" font-size="9.18" font-weight="bold" font-style="normal" letter-spacing="0.55" fill="#000" stroke="#000" stroke-width="0.50">1029.5</text>
<text transform="translate(53.57,259.36) scale(1.180,1)" font-size="9.18" font-weight="bold" font-style="normal" letter-spacing="0.51" fill="#000" stroke="#000" stroke-width="0.50">1045.4</text>
<text transform="translate(82.17,205.96) scale(1.180,1)" font-size="9.18" font-weight="bold" font-style="normal" letter-spacing="0.53" fill="#000" stroke="#000" stroke-width="0.50">1055.5</text>
<text transform="translate(123.18,250.06) scale(1.180,1)" font-size="9.04" font-weight="bold" font-style="normal" letter-spacing="0.69" fill="#000" stroke="#000" stroke-width="0.50">1071.5</text>
<text transform="translate(283.17,168.35) scale(1.180,1)" font-size="9.16" font-weight="bold" font-style="normal" letter-spacing="0.65" fill="#000" stroke="#000" stroke-width="0.50">1137.6</text>
<text transform="translate(3.56,297.66) scale(1.180,1)" font-size="9.32" font-weight="bold" font-style="normal" letter-spacing="1.01" fill="#000" stroke="#000" stroke-width="0.50">1020</text>
<text transform="translate(124.46,294.66) scale(1.180,1)" font-size="9.32" font-weight="bold" font-style="normal" letter-spacing="0.97" fill="#000" stroke="#000" stroke-width="0.50">1065</text>
<text transform="translate(243.57,293.36) scale(1.180,1)" font-size="9.18" font-weight="bold" font-style="normal" letter-spacing="1.05" fill="#000" stroke="#000" stroke-width="0.50">1120</text>
<text transform="translate(390.57,61.35) scale(1.180,1)" font-size="9.16" font-weight="bold" font-style="normal" letter-spacing="0.59" fill="#000" stroke="#000" stroke-width="0.50">1293.7</text>
<text transform="translate(421.56,137.05) scale(1.180,1)" font-size="9.30" font-weight="bold" font-style="normal" letter-spacing="0.53" fill="#000" stroke="#000" stroke-width="0.50">1309.6</text>
<text transform="translate(580.36,52.95) scale(1.180,1)" font-size="9.30" font-weight="bold" font-style="normal" letter-spacing="0.53" fill="#000" stroke="#000" stroke-width="0.50">1375.7</text>
<text transform="translate(623.88,130.05) scale(1.180,1)" font-size="9.02" font-weight="bold" font-style="normal" letter-spacing="0.68" fill="#000" stroke="#000" stroke-width="0.50">1389.8</text>
<text transform="translate(365.64,201.76) scale(1.180,1)" font-size="9.60" font-weight="bold" font-style="normal" letter-spacing="0.78" fill="#000" stroke="#000" stroke-width="0.50">1280</text>
<text transform="translate(500.16,202.75) scale(1.180,1)" font-size="9.30" font-weight="bold" font-style="normal" letter-spacing="0.85" fill="#000" stroke="#000" stroke-width="0.50">1340</text>
<text transform="translate(644.44,201.14) scale(1.180,1)" font-size="9.58" font-weight="bold" font-style="normal" letter-spacing="0.68" fill="#000" stroke="#000" stroke-width="0.50">1390</text>
<text transform="translate(248.18,331.45) scale(1.180,1)" font-size="9.02" font-weight="bold" font-style="normal" letter-spacing="0.71" fill="#000" stroke="#000" stroke-width="0.50">1139.6</text>
<text transform="translate(299.97,331.36) scale(1.180,1)" font-size="9.18" font-weight="bold" font-style="normal" letter-spacing="0.65" fill="#000" stroke="#000" stroke-width="0.50">1165.6</text>
<text transform="translate(385.58,393.05) scale(1.180,1)" font-size="9.02" font-weight="bold" font-style="normal" letter-spacing="0.67" fill="#000" stroke="#000" stroke-width="0.50">1293.7</text>
<text transform="translate(442.36,391.95) scale(1.180,1)" font-size="9.30" font-weight="bold" font-style="normal" letter-spacing="0.52" fill="#000" stroke="#000" stroke-width="0.50">1375.8</text>
<text transform="translate(472.37,234.15) scale(1.180,1)" font-size="9.16" font-weight="bold" font-style="normal" letter-spacing="0.60" fill="#000" stroke="#000" stroke-width="0.50">1403.8</text>
<text transform="translate(501.57,394.56) scale(1.180,1)" font-size="9.18" font-weight="bold" font-style="normal" letter-spacing="0.56" fill="#000" stroke="#000" stroke-width="0.50">1429.8</text>
<text transform="translate(80.73,443.65) scale(1.180,1)" font-size="10.31" font-weight="bold" font-style="normal" letter-spacing="1.03" fill="#000" stroke="#000" stroke-width="0.50">900</text>
<text transform="translate(160.29,444.45) scale(1.180,1)" font-size="10.17" font-weight="bold" font-style="normal" letter-spacing="0.95" fill="#000" stroke="#000" stroke-width="0.50">1000</text>
<text transform="translate(240.49,443.35) scale(1.180,1)" font-size="10.17" font-weight="bold" font-style="normal" letter-spacing="0.89" fill="#000" stroke="#000" stroke-width="0.50">1100</text>
<text transform="translate(320.09,443.35) scale(1.180,1)" font-size="10.17" font-weight="bold" font-style="normal" letter-spacing="1.00" fill="#000" stroke="#000" stroke-width="0.50">1200</text>
<text transform="translate(398.27,444.43) scale(1.180,1)" font-size="10.43" font-weight="bold" font-style="normal" letter-spacing="0.76" fill="#000" stroke="#000" stroke-width="0.50">1300</text>
<text transform="translate(479.58,441.45) scale(1.180,1)" font-size="10.31" font-weight="bold" font-style="normal" letter-spacing="0.82" fill="#000" stroke="#000" stroke-width="0.50">1400</text>
<text transform="translate(561.08,441.45) scale(1.180,1)" font-size="10.31" font-weight="bold" font-style="normal" letter-spacing="0.82" fill="#000" stroke="#000" stroke-width="0.50">1500</text>
<text transform="translate(180.37,495.25) scale(1.425,1)" font-size="11.34" font-weight="bold" font-style="normal" letter-spacing="0.00" fill="#000" stroke="#000" stroke-width="0.70">M</text>
<text transform="translate(194.25,495.25) scale(1.048,1)" font-size="11.34" font-weight="bold" font-style="normal" letter-spacing="0.00" fill="#000" stroke="#000" stroke-width="0.70">L</text>
<text transform="translate(203.04,495.34) scale(1.083,1)" font-size="11.58" font-weight="bold" font-style="normal" letter-spacing="0.00" fill="#000" stroke="#000" stroke-width="0.70">C</text>
<text transform="translate(213.42,495.25) scale(0.963,1)" font-size="11.34" font-weight="bold" font-style="normal" letter-spacing="0.00" fill="#000" stroke="#000" stroke-width="0.70">L</text>
<text transform="translate(472.47,493.63) scale(0.914,1)" font-size="12.71" font-weight="bold" font-style="normal" letter-spacing="0.00" fill="#000" stroke="#000" stroke-width="0.70">C</text>
<text transform="translate(482.53,493.55) scale(1.005,1)" font-size="12.21" font-weight="bold" font-style="normal" letter-spacing="0.00" fill="#000" stroke="#000" stroke-width="0.70">L</text>
<text transform="translate(606.75,449.27) scale(1.180,1)" font-size="12.80" font-weight="normal" font-style="italic" letter-spacing="0.18" fill="#000">m/z</text>
<line x1="76" y1="478" x2="329" y2="478" stroke="#333" stroke-width="1.4" stroke-dasharray="2 0.9"/>
<line x1="354.3" y1="477.4" x2="607.6" y2="477.4" stroke="#333" stroke-width="1.4" stroke-dasharray="2 0.9"/>
</svg></body></html>
